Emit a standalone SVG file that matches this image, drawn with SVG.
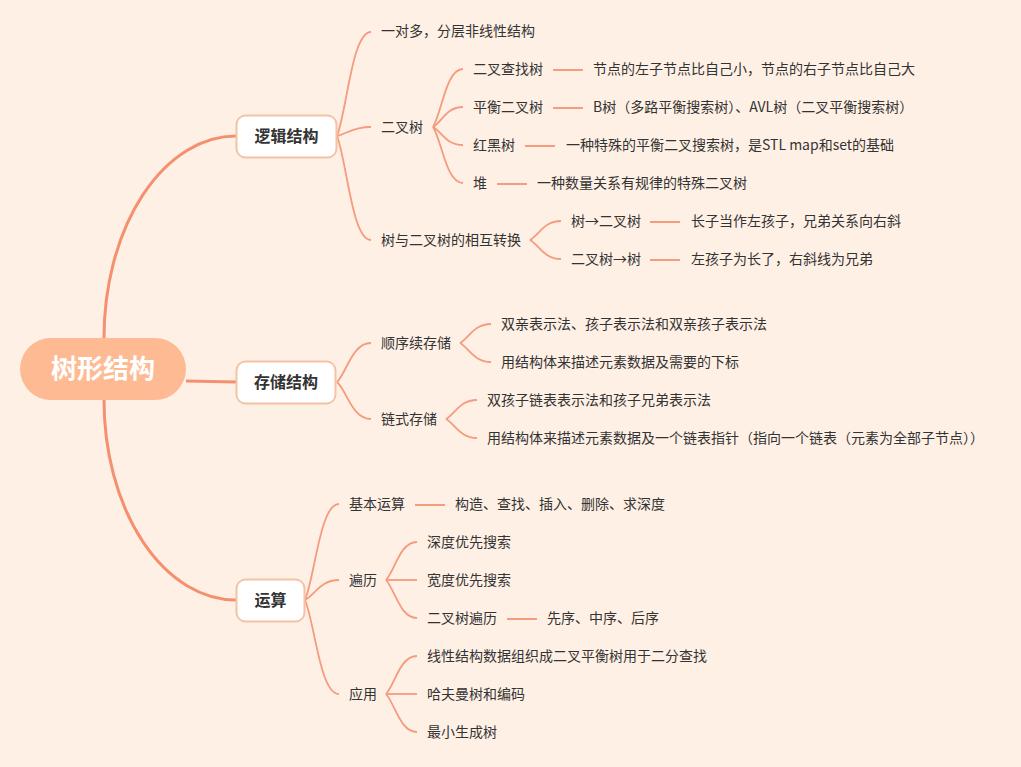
<svg xmlns="http://www.w3.org/2000/svg" width="1021" height="767" viewBox="0 0 1021 767">
<style>
text{font-family:"Noto Sans CJK SC","Liberation Sans",sans-serif;}
.t{font-size:14px;fill:#333333;}
.b{font-size:16px;font-weight:bold;fill:#333333;text-anchor:middle;}
.r{font-size:26px;font-weight:bold;fill:#ffffff;text-anchor:middle;}
.box{fill:#ffffff;stroke:#F6C2A3;stroke-width:2;}
.rl{fill:none;stroke:#F5906F;stroke-width:3;}
.cl{fill:none;stroke:#F59B7E;stroke-width:1.8;}
.dl{fill:none;stroke:#F59B7E;stroke-width:2;}
</style>
<rect x="0" y="0" width="1021" height="767" fill="#FFF0E5"/>
<g id="connectors">
<path class="rl" d="M104 338 A132 202 0 0 1 236 136"/>
<path class="rl" d="M186 381 L236 382"/>
<path class="rl" d="M104 400 A132 200 0 0 0 236 600"/>
<path class="cl" d="M337 136 C347 110 352 32 371 32"/>
<path class="cl" d="M337 136 C347 134 352 127 371 127"/>
<path class="cl" d="M337 136 C347 162 352 240 371 240"/>
<path class="cl" d="M433 127 C442 112 446 69 463 69"/>
<path class="cl" d="M433 127 C442 122 446 107 463 107"/>
<path class="cl" d="M433 127 C442 132 446 145 463 145"/>
<path class="cl" d="M433 127 C442 141 446 183 463 183"/>
<path class="dl" d="M553 70 L583 70"/>
<path class="dl" d="M553 108 L583 108"/>
<path class="dl" d="M525 146 L555 146"/>
<path class="dl" d="M497 184 L527 184"/>
<path class="cl" d="M530 240 C539 235 544 221 561 221"/>
<path class="cl" d="M530 240 C539 245 544 259 561 259"/>
<path class="dl" d="M650 222 L680 222"/>
<path class="dl" d="M650 260 L680 260"/>
<path class="cl" d="M337 382 C347 372 352 343 371 343"/>
<path class="cl" d="M337 382 C347 391 352 419 371 419"/>
<path class="cl" d="M460 343 C469 338 474 324 491 324"/>
<path class="cl" d="M460 343 C469 348 474 362 491 362"/>
<path class="cl" d="M446 419 C455 414 460 400 477 400"/>
<path class="cl" d="M446 419 C455 424 460 438 477 438"/>
<path class="cl" d="M305 600 C315 576 320 504 339 504"/>
<path class="cl" d="M305 600 C315 595 320 580 339 580"/>
<path class="cl" d="M305 600 C315 624 320 694 339 694"/>
<path class="dl" d="M415 505 L445 505"/>
<path class="cl" d="M386 580 C395 570 400 542 417 542"/>
<path class="cl" d="M386 580 L417 580"/>
<path class="cl" d="M386 580 C395 590 400 618 417 618"/>
<path class="dl" d="M507 619 L537 619"/>
<path class="cl" d="M386 694 C395 684 400 656 417 656"/>
<path class="cl" d="M386 694 L417 694"/>
<path class="cl" d="M386 694 C395 704 400 732 417 732"/>
</g>
<g id="root">
<rect x="20" y="338" width="166" height="62" rx="31" fill="#FDBA93"/>
<text class="r" x="103" y="378">树形结构</text>
</g>
<g id="n-logic">
<rect class="box" x="236.5" y="115.5" width="100" height="42" rx="9"/>
<text class="b" x="286.5" y="142">逻辑结构</text>
</g>
<g id="n-storage">
<rect class="box" x="236.5" y="361.5" width="99" height="42" rx="9"/>
<text class="b" x="286" y="388">存储结构</text>
</g>
<g id="n-op">
<rect class="box" x="236.5" y="579.5" width="68" height="42" rx="9"/>
<text class="b" x="270.5" y="606">运算</text>
</g>
<g id="n-l1"><text class="t" x="381" y="36">一对多，分层非线性结构</text></g>
<g id="n-l2"><text class="t" x="381" y="132">二叉树</text></g>
<g id="n-l2a"><text class="t" x="473" y="74">二叉查找树</text></g>
<g id="n-l2a1"><text class="t" x="593" y="74">节点的左子节点比自己小，节点的右子节点比自己大</text></g>
<g id="n-l2b"><text class="t" x="473" y="112">平衡二叉树</text></g>
<g id="n-l2b1"><text class="t" x="593" y="112">B树（多路平衡搜索树）、AVL树（二叉平衡搜索树）</text></g>
<g id="n-l2c"><text class="t" x="473" y="150">红黑树</text></g>
<g id="n-l2c1"><text class="t" x="566" y="150">一种特殊的平衡二叉搜索树，是STL map和set的基础</text></g>
<g id="n-l2d"><text class="t" x="473" y="188">堆</text></g>
<g id="n-l2d1"><text class="t" x="537" y="188">一种数量关系有规律的特殊二叉树</text></g>
<g id="n-l3"><text class="t" x="381" y="245">树与二叉树的相互转换</text></g>
<g id="n-l3a"><text class="t" x="571" y="226">树→二叉树</text></g>
<g id="n-l3a1"><text class="t" x="691" y="226">长子当作左孩子，兄弟关系向右斜</text></g>
<g id="n-l3b"><text class="t" x="571" y="264">二叉树→树</text></g>
<g id="n-l3b1"><text class="t" x="691" y="264">左孩子为长了，右斜线为兄弟</text></g>
<g id="n-s1"><text class="t" x="381" y="348">顺序续存储</text></g>
<g id="n-s1a"><text class="t" x="501" y="329">双亲表示法、孩子表示法和双亲孩子表示法</text></g>
<g id="n-s1b"><text class="t" x="501" y="367">用结构体来描述元素数据及需要的下标</text></g>
<g id="n-s2"><text class="t" x="381" y="424">链式存储</text></g>
<g id="n-s2a"><text class="t" x="487" y="405">双孩子链表表示法和孩子兄弟表示法</text></g>
<g id="n-s2b"><text class="t" x="487" y="443">用结构体来描述元素数据及一个链表指针（指向一个链表（元素为全部子节点））</text></g>
<g id="n-o1"><text class="t" x="349" y="509">基本运算</text></g>
<g id="n-o1a"><text class="t" x="455" y="509">构造、查找、插入、删除、求深度</text></g>
<g id="n-o2"><text class="t" x="349" y="585">遍历</text></g>
<g id="n-o2a"><text class="t" x="427" y="547">深度优先搜索</text></g>
<g id="n-o2b"><text class="t" x="427" y="585">宽度优先搜索</text></g>
<g id="n-o2c"><text class="t" x="427" y="623">二叉树遍历</text></g>
<g id="n-o2c1"><text class="t" x="547" y="623">先序、中序、后序</text></g>
<g id="n-o3"><text class="t" x="349" y="699">应用</text></g>
<g id="n-o3a"><text class="t" x="427" y="661">线性结构数据组织成二叉平衡树用于二分查找</text></g>
<g id="n-o3b"><text class="t" x="427" y="699">哈夫曼树和编码</text></g>
<g id="n-o3c"><text class="t" x="427" y="737">最小生成树</text></g>
</svg>
